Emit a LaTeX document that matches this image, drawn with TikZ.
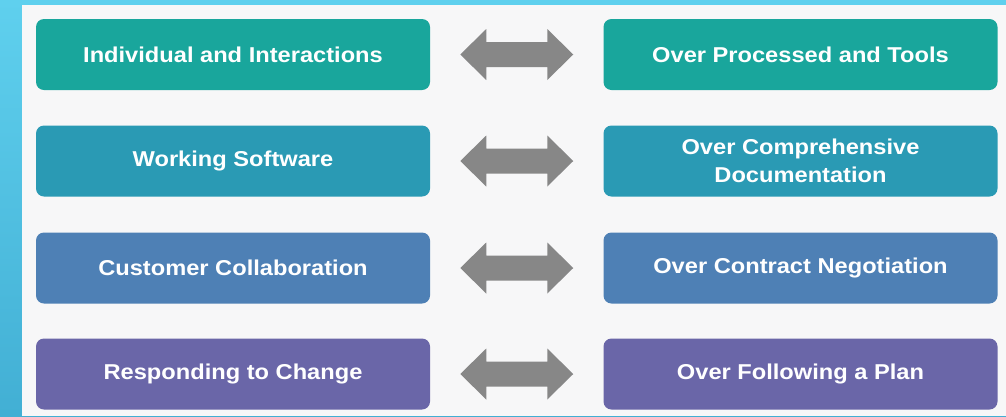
\documentclass[tikz,border=0pt]{standalone}
\usepackage{fontspec}
\setmainfont[FakeStretch=1.1]{Liberation Sans}
\usetikzlibrary{calc}
\definecolor{bgtop}{HTML}{5FD0EE}
\definecolor{bgbot}{HTML}{42AFD4}
\definecolor{panel}{HTML}{F7F7F8}
\definecolor{rowA}{HTML}{19A69C}
\definecolor{rowB}{HTML}{2A9AB4}
\definecolor{rowC}{HTML}{4E80B5}
\definecolor{rowD}{HTML}{6A66A8}
\definecolor{arrowgray}{HTML}{878787}
\tikzset{
  card/.style={rounded corners=8pt, minimum width=394pt, minimum height=71pt,
    inner sep=0pt, text=white, font=\fontsize{21.5}{28}\selectfont\bfseries, align=center},
  fatarrow/.style={fill=arrowgray}
}
\begin{document}
\begin{tikzpicture}[x=1pt,y=-1pt]
\useasboundingbox (0,0) rectangle (1006,416);
\shade[top color=bgtop, bottom color=bgbot] (0,0) rectangle (1006,416);
\fill[panel] (22,5) rectangle (1006,416);
% rows
\foreach \n/\y/\c/\lt/\rt in {
  1/54.5/rowA/{Individual and Interactions}/{Over Processed and Tools},
  2/161/rowB/{Working Software}/{Over Comprehensive\\Documentation},
  3/268/rowC/{Customer Collaboration}/{Over Contract Negotiation},
  4/374/rowD/{Responding to Change}/{Over Following a Plan}}{
  \node[card, fill=\c] (L\n) at (233,\y) {\lt};
  \node[card, fill=\c] (R\n) at (800.5,\y) {\rt};
  \coordinate (M\n) at ($(L\n.east)!0.5!(R\n.west)$);
  \fill[fatarrow] ($(M\n)+(-56.5,0)$) -- ++(26,-25.5) -- ++(0,13) -- ++(61,0) -- ++(0,-13)
     -- ++(26,25.5) -- ++(-26,25.5) -- ++(0,-13) -- ++(-61,0) -- ++(0,13) -- cycle;
}
\end{tikzpicture}
\end{document}
